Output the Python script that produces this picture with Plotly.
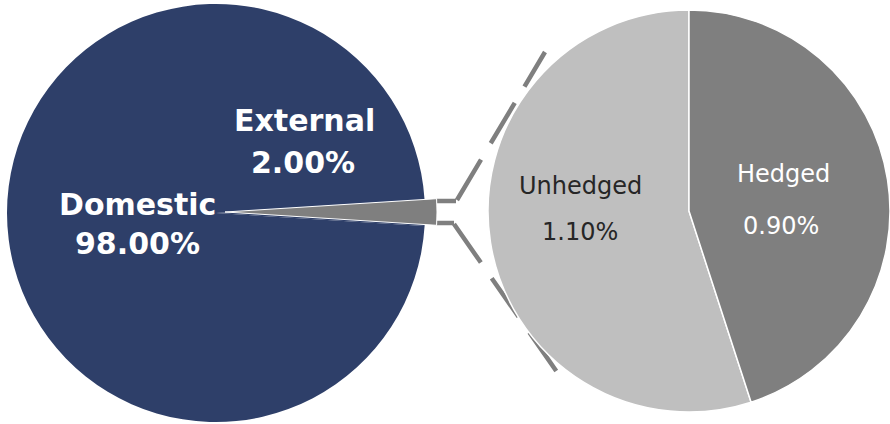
import plotly.graph_objects as go

# ---- data ----
left_labels = ["Domestic", "External"]
left_values = [98.00, 2.00]
right_labels = ["Unhedged", "Hedged"]
right_values = [1.10, 0.90]

W, H = 890, 424
NAVY = "#2E3F69"
LIGHT = "#BFBFBF"
DARK = "#7F7F7F"


def dom(cx, cy, r):
    """pixel centre/radius -> pie domain (paper fractions)"""
    return dict(x=[max(0, (cx - r) / W), min(1, (cx + r) / W)],
                y=[max(0, (H - cy - r) / H), min(1, (H - cy + r) / H)])


def px(x, y):
    return x / W, 1 - y / H


fig = go.Figure()

# main pie
fig.add_trace(go.Pie(
    labels=left_labels, values=left_values, sort=False, direction="clockwise",
    rotation=93.6, marker=dict(colors=[NAVY, NAVY]), textinfo="none",
    domain=dom(216, 213, 209), hoverinfo="label+percent"))

# pulled-out External wedge
fig.add_trace(go.Pie(
    labels=left_labels, values=left_values, sort=False, direction="clockwise",
    rotation=93.6, marker=dict(colors=["rgba(0,0,0,0)", DARK],
                               line=dict(color=["rgba(0,0,0,0)", "white"], width=1)),
    textinfo="none", domain=dom(225, 212, 212), hoverinfo="skip"))

# breakdown pie
fig.add_trace(go.Pie(
    labels=right_labels, values=right_values, sort=False, direction="clockwise",
    rotation=162, marker=dict(colors=[LIGHT, DARK], line=dict(color="white", width=1.5)),
    textinfo="none", domain=dom(689, 211, 201), hoverinfo="label+value"))

# connector lines
shapes = []
for (x0, y0, x1, y1) in [(437, 201, 456, 201), (437, 223, 454, 223)]:
    a, b = px(x0, y0); c, d = px(x1, y1)
    shapes.append(dict(type="line", xref="paper", yref="paper", x0=a, y0=b, x1=c, y1=d,
                       line=dict(color=DARK, width=4.5), layer="below"))
for (x0, y0, x1, y1) in [(457, 200, 545, 52), (454, 224, 557, 372)]:
    a, b = px(x0, y0); c, d = px(x1, y1)
    shapes.append(dict(type="line", xref="paper", yref="paper", x0=a, y0=b, x1=c, y1=d,
                       line=dict(color=DARK, width=4.5, dash="47px,19px"), layer="below"))

# labels
ann = []
def add(text, x, y, size, color, family, bold=False):
    t = f"<b>{text}</b>" if bold else text
    xx, yy = px(x, y)
    ann.append(dict(text=t, x=xx, y=yy, xref="paper", yref="paper", showarrow=False,
                    xanchor="center", yanchor="middle",
                    font=dict(size=size, color=color, family=family)))

BOLD = "DejaVu Sans"
add(left_labels[1], 304, 120.5, 30, "white", BOLD, True)
add(f"{left_values[1]:.2f}%", 303, 162.5, 30, "white", BOLD, True)
add(left_labels[0], 137, 204, 30, "white", BOLD, True)
add(f"{left_values[0]:.2f}%", 137, 243.5, 30, "white", BOLD, True)

REG = "DejaVu Sans"
add(right_labels[0], 580, 186, 24, "#262626", REG)
add(f"{right_values[0]:.2f}%", 580, 232.5, 24, "#262626", REG)
add(right_labels[1], 783, 174, 24, "white", REG)
add(f"{right_values[1]:.2f}%", 781, 226, 24, "white", REG)

fig.update_layout(width=W, height=H, margin=dict(l=0, r=0, t=0, b=0),
                  paper_bgcolor="white", plot_bgcolor="white", showlegend=False,
                  shapes=shapes, annotations=ann)

fig.write_html("out.html", config={"displayModeBar": False},
               post_script="document.body.style.margin='0';")
